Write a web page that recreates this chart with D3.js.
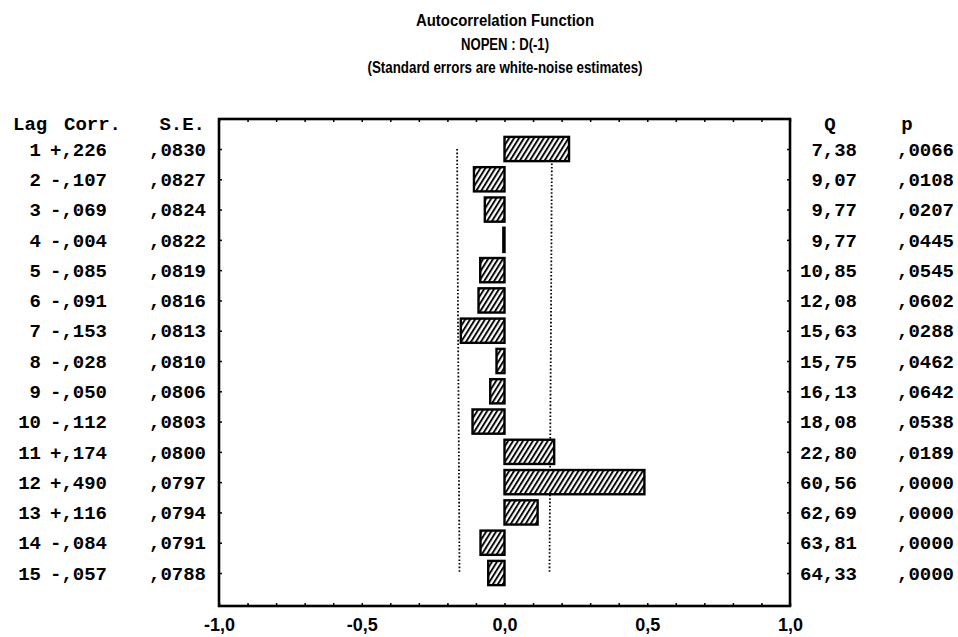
<!DOCTYPE html>
<html>
<head>
<meta charset="utf-8">
<script src="https://cdn.jsdelivr.net/npm/d3@7"></script>
<style>
  html, body { margin: 0; padding: 0; background: #fff; }
  svg { display: block; }
</style>
</head>
<body>
<svg id="chart" width="958" height="637"></svg>
<script>
// Autocorrelation table for NOPEN : D(-1)
const lags = [1, 2, 3, 4, 5, 6, 7, 8, 9, 10, 11, 12, 13, 14, 15];
const corr = [0.226, -0.107, -0.069, -0.004, -0.085, -0.091, -0.153, -0.028, -0.050, -0.112, 0.174, 0.490, 0.116, -0.084, -0.057];
const stdErr = [0.0830, 0.0827, 0.0824, 0.0822, 0.0819, 0.0816, 0.0813, 0.0810, 0.0806, 0.0803, 0.0800, 0.0797, 0.0794, 0.0791, 0.0788];
const qStat = [7.38, 9.07, 9.77, 9.77, 10.85, 12.08, 15.63, 15.75, 16.13, 18.08, 22.80, 60.56, 62.69, 63.81, 64.33];
const pValue = [0.0066, 0.0108, 0.0207, 0.0445, 0.0545, 0.0602, 0.0288, 0.0462, 0.0642, 0.0538, 0.0189, 0.0000, 0.0000, 0.0000, 0.0000];
const xTicks = [-1, -0.5, 0, 0.5, 1];
const titleLines = ["Autocorrelation Function", "NOPEN : D(-1)", "(Standard errors are white-noise estimates)"];

const svg = d3.select("#chart");

// plot frame
const box = { left: 219, right: 790, top: 119, bottom: 606 };
const x = d3.scaleLinear().domain([-1, 1]).range([box.left, box.right]);
const y = d3.scalePoint().domain(lags).range([149, 573]);
const step = y.step();
const barH = step * 0.8;

const monoFont = "'Liberation Mono', 'Courier New', monospace";

// hatch pattern for the bars
const defs = svg.append("defs");
defs.append("pattern")
  .attr("id", "hatch")
  .attr("patternUnits", "userSpaceOnUse")
  .attr("width", 4.2)
  .attr("height", 4.2)
  .attr("patternTransform", "rotate(32)")
  .append("line")
  .attr("x1", 1).attr("y1", 0).attr("x2", 1).attr("y2", 4.2)
  .attr("stroke", "#000").attr("stroke-width", 1.9);

// titles
const titleG = svg.append("g")
  .attr("font-family", "'Liberation Sans Narrow', 'Liberation Sans', Arial, sans-serif")
  .attr("font-weight", "bold")
  .attr("font-size", 16)
  .attr("text-anchor", "middle");
const titleY = [20, 44, 67];
const titleW = [178, 88, 275];
titleLines.forEach((t, i) => {
  titleG.append("text")
    .attr("x", 505).attr("y", titleY[i]).attr("dy", "0.35em")
    .attr("textLength", titleW[i]).attr("lengthAdjust", "spacingAndGlyphs")
    .text(t);
});

// confidence limits (2 x standard error), dotted
const limitLine = d3.line().x(d => d[0]).y(d => d[1]);
[-1, 1].forEach(sign => {
  svg.append("path")
    .attr("d", limitLine(lags.map((l, i) => [x(sign * 2 * stdErr[i]), y(l)])))
    .attr("fill", "none")
    .attr("stroke", "#000")
    .attr("stroke-width", 1.8)
    .attr("stroke-dasharray", "1.6,2");
});

// bars
const bars = svg.append("g");
lags.forEach((l, i) => {
  const x0 = Math.min(x(0), x(corr[i]));
  const w = Math.abs(x(corr[i]) - x(0));
  bars.append("rect")
    .attr("x", x0).attr("y", y(l) - barH / 2)
    .attr("width", w).attr("height", barH)
    .attr("fill", "#fff");
  bars.append("rect")
    .attr("x", x0).attr("y", y(l) - barH / 2)
    .attr("width", w).attr("height", barH)
    .attr("fill", "url(#hatch)")
    .attr("stroke", "#000")
    .attr("stroke-width", 2.4);
});

// frame
svg.append("rect")
  .attr("x", box.left).attr("y", box.top)
  .attr("width", box.right - box.left).attr("height", box.bottom - box.top)
  .attr("fill", "none").attr("stroke", "#000").attr("stroke-width", 2.6);

// minor ticks along bottom and top edges
const minor = d3.range(-10, 11).map(v => v / 10);
const bottomMinor = svg.append("g")
  .attr("transform", `translate(0,${box.bottom})`)
  .call(d3.axisBottom(x).tickValues(minor).tickSize(-3).tickFormat(""));
const topMinor = svg.append("g")
  .attr("transform", `translate(0,${box.top})`)
  .call(d3.axisTop(x).tickValues(minor).tickSize(-3).tickFormat(""));
[bottomMinor, topMinor].forEach(g => {
  g.select(".domain").remove();
  g.selectAll("line").attr("stroke", "#000").attr("stroke-width", 1.5);
});

// row ticks on left and right edges
const leftTicks = svg.append("g")
  .attr("transform", `translate(${box.left},0)`)
  .call(d3.axisLeft(y).tickSize(-3).tickFormat(""));
const rightTicks = svg.append("g")
  .attr("transform", `translate(${box.right},0)`)
  .call(d3.axisRight(y).tickSize(-3).tickFormat(""));
[leftTicks, rightTicks].forEach(g => {
  g.select(".domain").remove();
  g.selectAll("line").attr("stroke", "#000").attr("stroke-width", 1.5);
});

// x tick labels
const fmtTick = v => d3.format(".1f")(v).replace("\u2212", "-").replace(".", ",");
const xAxis = svg.append("g")
  .attr("transform", `translate(0,${box.bottom})`)
  .call(d3.axisBottom(x).tickValues(xTicks).tickSize(0).tickPadding(12).tickFormat(fmtTick));
xAxis.select(".domain").remove();
xAxis.selectAll("text")
  .attr("font-family", "'Liberation Sans', Arial, sans-serif")
  .attr("font-weight", "bold")
  .attr("font-size", 18)
  .attr("fill", "#000");

// table columns
const fmtCorr = c => (c < 0 ? "-" : "+") + "," + Math.abs(c).toFixed(3).slice(2);
const fmtSE = s => "," + s.toFixed(4).slice(2);
const fmtQ = q => q.toFixed(2).replace(".", ",");
const fmtP = p => "," + p.toFixed(4).slice(2);

const table = svg.append("g")
  .attr("font-family", monoFont)
  .attr("font-weight", "bold")
  .attr("font-size", 19)
  .attr("fill", "#000");

const headerY = 123;
const headers = [
  { t: "Lag", x: 13, a: "start" },
  { t: "Corr.", x: 64, a: "start" },
  { t: "S.E.", x: 205, a: "end" },
  { t: "Q", x: 830, a: "middle" },
  { t: "p", x: 907, a: "middle" }
];
headers.forEach(h => {
  table.append("text")
    .attr("x", h.x).attr("y", headerY).attr("dy", "0.35em")
    .attr("text-anchor", h.a).text(h.t);
});

const columns = [
  { vals: lags, fmt: d => String(d), x: 41, a: "end" },
  { vals: corr, fmt: fmtCorr, x: 50, a: "start" },
  { vals: stdErr, fmt: fmtSE, x: 206, a: "end" },
  { vals: qStat, fmt: fmtQ, x: 857, a: "end" },
  { vals: pValue, fmt: fmtP, x: 897, a: "start" }
];
columns.forEach(col => {
  table.append("g").selectAll("text")
    .data(lags)
    .join("text")
    .attr("x", col.x)
    .attr("y", d => y(d))
    .attr("dy", "0.35em")
    .attr("text-anchor", col.a)
    .text((d, i) => col.fmt(col.vals[i]));
});
</script>
</body>
</html>
